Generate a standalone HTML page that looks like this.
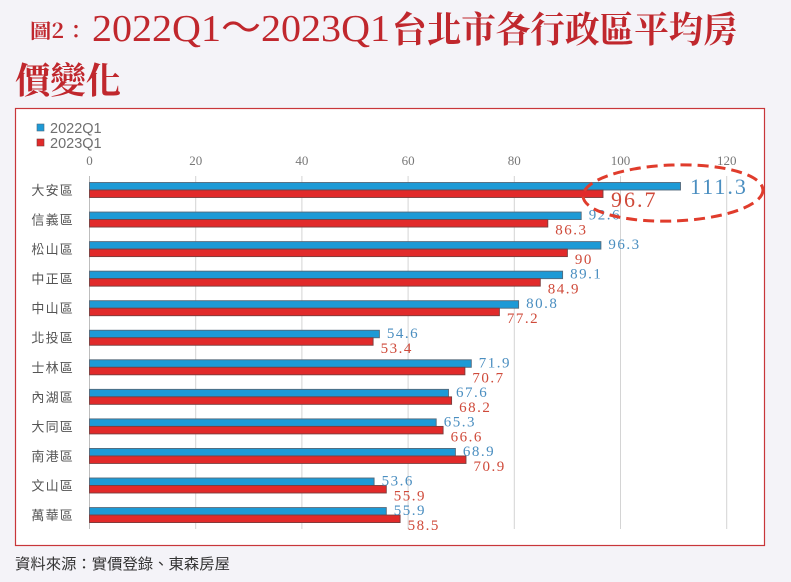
<!DOCTYPE html>
<html><head><meta charset="utf-8">
<style>
html,body{margin:0;padding:0;background:#f4f3f8;}
svg{display:block;}
</style></head>
<body>
<svg width="791" height="582" viewBox="0 0 791 582" xmlns="http://www.w3.org/2000/svg">
<rect x="0" y="0" width="791" height="582" fill="#f4f3f8"/>
<!-- Title -->
<text x="30" y="38" font-family="Noto Serif CJK TC, Noto Serif CJK SC, serif" font-size="20" font-weight="700" fill="#c0272d" textLength="34" lengthAdjust="spacingAndGlyphs">圖2</text>
<text x="66" y="38" font-family="Noto Serif CJK TC, Noto Serif CJK SC, serif" font-size="20" font-weight="700" fill="#c0272d">：</text>
<text x="92" y="41" font-family="Liberation Serif, serif" font-size="38" fill="#c0272d" textLength="298" lengthAdjust="spacingAndGlyphs">2022Q1～2023Q1</text>
<text x="392" y="42" font-family="Noto Serif CJK TC, Noto Serif CJK SC, serif" font-size="36" font-weight="700" fill="#c0272d" textLength="346" lengthAdjust="spacingAndGlyphs">台北市各行政區平均房</text>
<text x="15" y="93" font-family="Noto Serif CJK TC, Noto Serif CJK SC, serif" font-size="36" font-weight="700" fill="#c0272d" textLength="106" lengthAdjust="spacingAndGlyphs">價變化</text>

<!-- Chart box -->
<rect x="15.5" y="108.5" width="749" height="437" fill="#ffffff" stroke="#c8363a" stroke-width="1.2"/>

<!-- Legend -->
<rect x="37" y="124" width="7" height="7" fill="#1d9ad6" stroke="#4a6a80" stroke-width="0.6"/>
<text x="50" y="133" font-family="Liberation Sans, sans-serif" font-size="14.5" fill="#6f6f6f">2022Q1</text>
<rect x="37" y="139" width="7" height="7" fill="#e12a2a" stroke="#7a3a3a" stroke-width="0.6"/>
<text x="50" y="148" font-family="Liberation Sans, sans-serif" font-size="14.5" fill="#6f6f6f">2023Q1</text>

<!-- Gridlines and ticks -->
<g stroke="#d4d4d4" stroke-width="1">
<line x1="89.5" y1="176" x2="89.5" y2="529" stroke="#bdbdbd"/>
<line x1="195.7" y1="176" x2="195.7" y2="529"/>
<line x1="301.9" y1="176" x2="301.9" y2="529"/>
<line x1="408.1" y1="176" x2="408.1" y2="529"/>
<line x1="514.3" y1="176" x2="514.3" y2="529"/>
<line x1="620.5" y1="176" x2="620.5" y2="529"/>
<line x1="726.7" y1="176" x2="726.7" y2="529"/>
</g>
<g font-family="Liberation Serif, serif" font-size="13" fill="#777" text-anchor="middle">
<text x="89.5" y="165">0</text>
<text x="195.7" y="165">20</text>
<text x="301.9" y="165">40</text>
<text x="408.1" y="165">60</text>
<text x="514.3" y="165">80</text>
<text x="620.5" y="165">100</text>
<text x="726.7" y="165">120</text>
</g>

<!-- Category labels -->
<g font-family="Liberation Sans, Noto Sans CJK TC, sans-serif" font-size="13" fill="#555" text-anchor="end" letter-spacing="1.2">
<text x="74" y="195">大安區</text>
<text x="74" y="224.5">信義區</text>
<text x="74" y="254.1">松山區</text>
<text x="74" y="283.6">中正區</text>
<text x="74" y="313.2">中山區</text>
<text x="74" y="342.7">北投區</text>
<text x="74" y="372.3">士林區</text>
<text x="74" y="401.8">內湖區</text>
<text x="74" y="431.4">大同區</text>
<text x="74" y="460.9">南港區</text>
<text x="74" y="490.5">文山區</text>
<text x="74" y="520">萬華區</text>
</g>

<!-- Bars -->
<g stroke-width="0.9">
<rect x="89.5" y="182.5" width="591.0" height="7.5" fill="#1d9ad6" stroke="#55697a"/>
<rect x="89.5" y="190" width="513.5" height="7.5" fill="#e12a2a" stroke="#7a3d3d"/>

<rect x="89.5" y="212.05" width="491.7" height="7.5" fill="#1d9ad6" stroke="#55697a"/>
<rect x="89.5" y="219.55" width="458.3" height="7.5" fill="#e12a2a" stroke="#7a3d3d"/>

<rect x="89.5" y="241.6" width="511.4" height="7.5" fill="#1d9ad6" stroke="#55697a"/>
<rect x="89.5" y="249.1" width="477.9" height="7.5" fill="#e12a2a" stroke="#7a3d3d"/>

<rect x="89.5" y="271.15" width="473.1" height="7.5" fill="#1d9ad6" stroke="#55697a"/>
<rect x="89.5" y="278.65" width="450.8" height="7.5" fill="#e12a2a" stroke="#7a3d3d"/>

<rect x="89.5" y="300.7" width="429.1" height="7.5" fill="#1d9ad6" stroke="#55697a"/>
<rect x="89.5" y="308.2" width="409.9" height="7.5" fill="#e12a2a" stroke="#7a3d3d"/>

<rect x="89.5" y="330.25" width="289.9" height="7.5" fill="#1d9ad6" stroke="#55697a"/>
<rect x="89.5" y="337.75" width="283.6" height="7.5" fill="#e12a2a" stroke="#7a3d3d"/>

<rect x="89.5" y="359.8" width="381.8" height="7.5" fill="#1d9ad6" stroke="#55697a"/>
<rect x="89.5" y="367.3" width="375.4" height="7.5" fill="#e12a2a" stroke="#7a3d3d"/>

<rect x="89.5" y="389.35" width="359.0" height="7.5" fill="#1d9ad6" stroke="#55697a"/>
<rect x="89.5" y="396.85" width="362.1" height="7.5" fill="#e12a2a" stroke="#7a3d3d"/>

<rect x="89.5" y="418.9" width="346.7" height="7.5" fill="#1d9ad6" stroke="#55697a"/>
<rect x="89.5" y="426.4" width="353.6" height="7.5" fill="#e12a2a" stroke="#7a3d3d"/>

<rect x="89.5" y="448.45" width="365.9" height="7.5" fill="#1d9ad6" stroke="#55697a"/>
<rect x="89.5" y="455.95" width="376.5" height="7.5" fill="#e12a2a" stroke="#7a3d3d"/>

<rect x="89.5" y="478.0" width="284.6" height="7.5" fill="#1d9ad6" stroke="#55697a"/>
<rect x="89.5" y="485.5" width="296.8" height="7.5" fill="#e12a2a" stroke="#7a3d3d"/>

<rect x="89.5" y="507.55" width="296.8" height="7.5" fill="#1d9ad6" stroke="#55697a"/>
<rect x="89.5" y="515.05" width="310.6" height="7.5" fill="#e12a2a" stroke="#7a3d3d"/>
</g>

<!-- Value labels -->
<g font-family="Liberation Serif, serif" font-size="15" letter-spacing="1.5">
<text x="690" y="194" font-size="22" fill="#4a8ec0" letter-spacing="2">111.3</text>
<text x="611" y="207" font-size="22" fill="#cf4a3a" letter-spacing="2">96.7</text>

<g fill="#4a8ec0">
<text x="588.7" y="219.5">92.6</text>
<text x="608.4" y="249.1">96.3</text>
<text x="570.1" y="278.7">89.1</text>
<text x="526.1" y="308.2">80.8</text>
<text x="386.9" y="337.8">54.6</text>
<text x="478.8" y="367.3">71.9</text>
<text x="456.0" y="396.9">67.6</text>
<text x="443.7" y="426.4">65.3</text>
<text x="462.9" y="456">68.9</text>
<text x="381.6" y="485.5">53.6</text>
<text x="393.8" y="515.1">55.9</text>
</g>
<g fill="#cf4a3a">
<text x="555.3" y="234.5">86.3</text>
<text x="574.9" y="264.1">90</text>
<text x="547.8" y="293.7">84.9</text>
<text x="506.9" y="323.2">77.2</text>
<text x="380.6" y="352.8">53.4</text>
<text x="472.4" y="382.3">70.7</text>
<text x="459.1" y="411.9">68.2</text>
<text x="450.6" y="441.4">66.6</text>
<text x="473.5" y="471">70.9</text>
<text x="393.8" y="500.5">55.9</text>
<text x="407.6" y="530.1">58.5</text>
</g>
</g>

<!-- Dashed ellipse highlight -->
<ellipse cx="673" cy="193" rx="90" ry="28" fill="none" stroke="#e03c2c" stroke-width="3" stroke-dasharray="11 6" transform="rotate(-2 673 193)"/>

<!-- Footer -->
<text x="15" y="569" font-family="Liberation Sans, Noto Sans CJK TC, sans-serif" font-size="15" fill="#333" textLength="215" lengthAdjust="spacingAndGlyphs">資料來源：實價登錄、東森房屋</text>
</svg>
</body></html>
